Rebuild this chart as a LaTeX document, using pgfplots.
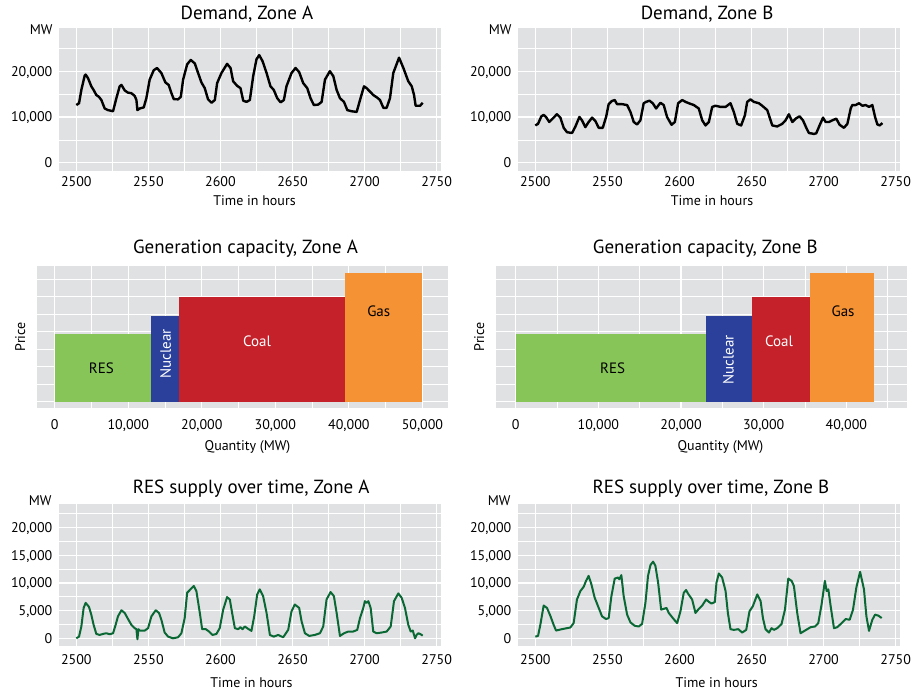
\documentclass[border=0pt]{standalone}
\usepackage{fontspec}
\setmainfont{PT Sans}
\usepackage{pgfplots}
\pgfplotsset{compat=1.18}
\definecolor{bgc}{RGB}{224,225,227}
\definecolor{resgreen}{RGB}{135,197,88}
\definecolor{nucblue}{RGB}{42,64,154}
\definecolor{coalred}{RGB}{196,33,43}
\definecolor{gasorange}{RGB}{245,146,51}
\definecolor{linegreen}{RGB}{10,104,52}
\pgfplotsset{
  panel/.style={
    scale only axis, anchor=south west, clip=false, scaled ticks=false,
    axis background/.style={fill=bgc},
    axis line style={draw=none},
    major tick length=0pt, minor tick length=0pt,
    grid=both,
    major grid style={draw=white, line width=1.2pt},
    minor grid style={draw=white, line width=0.6pt},
    tick label style={font=\fontsize{14}{16}\selectfont},
    yticklabel style={anchor=base east, inner sep=0pt, xshift=-6.5pt, yshift=-5pt},
  },
  timepanel/.style={
    panel, xmin=2488, xmax=2753,
    xtick={2500,2550,2600,2650,2700,2750},
    xticklabels={2500,2550,2600,2650,2700,2750},
    minor xtick={2525,2575,2625,2675,2725},
  },
  cappanel/.style={
    panel, ymin=-0.34, ymax=7.75,
    ytick={0,2,4,6}, yticklabels={}, minor ytick={1,3,5,7},
    minor xtick={5000,15000,25000,35000,45000},
    xticklabel style={anchor=base, inner sep=0pt, yshift=-22pt},
  },
}
\newcommand{\ttl}{\fontsize{19}{22}\selectfont}
\newcommand{\lbl}{\fontsize{14}{16}\selectfont}
\newcommand{\barfont}{\fontsize{15}{17}\selectfont}
\begin{document}
\begin{tikzpicture}
\useasboundingbox (0pt,0pt) rectangle (919pt,694pt);

% ---------- Demand, Zone A ----------
\begin{axis}[timepanel, at={(59pt,523pt)}, width=382pt, height=143.3pt,
  ymin=-1800, ymax=29500, ytick={0,10000,20000}, yticklabels={0,{10,000},{20,000}},
  minor ytick={5000,15000,25000},
  xticklabel style={anchor=base, inner sep=0pt, yshift=-15.7pt}]
\addplot[black, line width=2.4pt, line join=round] coordinates {
(2500.0,12600)(2501.9,13000)(2503.5,15900)(2505.8,19000)(2506.5,19260)(2508.1,18500)(2510.4,16700)(2512.0,15900)(2513.9,14800)(2515.7,14400)(2517.4,13700)(2519.7,11850)(2522.0,11500)(2525.5,11260)(2527.8,14100)(2530.1,16700)(2531.3,17000)(2533.6,15800)(2535.9,15300)(2538.2,15200)(2540.5,14600)(2541.7,13700)(2542.4,11500)(2544.0,11850)(2546.8,12100)(2548.6,14100)(2550.9,18150)(2553.7,20200)(2556.0,20700)(2559.0,19600)(2561.8,17550)(2564.1,17000)(2566.0,15200)(2567.6,13900)(2570.6,13850)(2572.5,14400)(2574.1,18150)(2576.9,21500)(2579.4,22450)(2582.2,21700)(2584.5,19600)(2586.8,17550)(2589.1,16300)(2591.4,13850)(2593.8,13100)(2596.1,13700)(2597.7,17400)(2600.7,19600)(2604.6,21600)(2607.0,20700)(2608.8,17800)(2611.6,16800)(2613.9,16300)(2615.8,13550)(2618.1,13300)(2620.4,13700)(2622.7,18900)(2625.0,22600)(2626.9,23500)(2629.2,22200)(2632.0,19600)(2634.7,16700)(2637.0,15900)(2639.4,14100)(2641.7,13200)(2644.0,13700)(2645.8,16700)(2649.3,19600)(2652.1,20700)(2654.6,19800)(2657.4,17400)(2660.2,16300)(2662.5,14100)(2664.8,12600)(2667.8,12700)(2670.2,13300)(2672.5,18150)(2675.9,20000)(2678.3,18900)(2680.6,15900)(2682.9,14100)(2685.7,13300)(2688.0,11500)(2691.0,11250)(2694.5,11100)(2696.8,13700)(2699.6,16700)(2701.4,16300)(2703.7,15550)(2706.0,14800)(2708.4,14300)(2710.7,13700)(2713.0,12000)(2715.3,12000)(2717.6,14100)(2719.9,19600)(2723.9,22950)(2726.9,20700)(2730.3,17800)(2732.7,16700)(2734.3,14800)(2735.4,12450)(2738.5,12450)(2740.3,13100)
};
\node[anchor=base, font=\ttl, yshift=8.4pt] at (rel axis cs:0.492,1) {Demand, Zone A};
\node[anchor=base east, font=\lbl, inner sep=0pt, xshift=-6.3pt, yshift=-7.3pt] at (rel axis cs:0,1) {MW};
\node[anchor=base, font=\lbl, yshift=-35pt] at (rel axis cs:0.512,0) {Time in hours};
\end{axis}

% ---------- Demand, Zone B ----------
\begin{axis}[timepanel, at={(518pt,523pt)}, width=382pt, height=143.3pt,
  ymin=-1800, ymax=29500, ytick={0,10000,20000}, yticklabels={0,{10,000},{20,000}},
  minor ytick={5000,15000,25000},
  xticklabel style={anchor=base, inner sep=0pt, yshift=-15.7pt}]
\addplot[black, line width=2.4pt, line join=round] coordinates {
(2500.0,8150)(2501.9,8500)(2504.2,10150)(2505.8,10450)(2507.4,10000)(2509.7,8900)(2512.0,9630)(2515.0,10600)(2517.4,9850)(2519.7,7630)(2522.0,6670)(2525.5,6500)(2527.8,7900)(2530.6,10000)(2532.4,9260)(2534.7,7780)(2537.0,8900)(2539.4,9850)(2541.7,9100)(2544.0,7630)(2546.8,7630)(2549.1,10000)(2550.9,12800)(2553.2,13500)(2555.1,13700)(2556.7,12800)(2560.2,12800)(2563.7,12600)(2566.0,11100)(2568.3,8900)(2570.6,8370)(2572.9,9260)(2575.2,13000)(2576.9,13300)(2579.2,13550)(2581.5,13000)(2583.8,11850)(2586.8,13100)(2589.1,12600)(2591.4,10000)(2594.5,8300)(2596.8,8900)(2599.1,13000)(2601.9,13700)(2604.2,13300)(2606.5,13000)(2610.0,12600)(2613.4,11850)(2615.8,9260)(2618.1,8150)(2620.4,8900)(2622.7,12200)(2625.0,12450)(2628.5,12200)(2632.0,12200)(2635.4,13000)(2637.7,11100)(2640.1,8500)(2642.8,8150)(2645.4,10370)(2647.0,13300)(2649.3,13850)(2651.6,13300)(2655.1,13000)(2657.4,12450)(2660.9,11500)(2664.4,8150)(2667.8,7930)(2671.3,8500)(2673.6,9260)(2675.9,10600)(2678.3,8900)(2680.6,9630)(2683.3,10150)(2685.7,9260)(2688.0,7630)(2689.8,6500)(2693.3,6300)(2694.9,6440)(2697.2,8150)(2699.6,9850)(2701.4,8900)(2703.7,8900)(2706.0,9260)(2708.8,9630)(2711.1,8300)(2714.1,7630)(2716.5,8500)(2718.8,11850)(2719.9,12600)(2722.2,12600)(2724.6,13000)(2726.9,12450)(2729.2,12600)(2731.5,12200)(2733.8,12600)(2735.7,10000)(2737.3,8370)(2738.9,8150)(2740.8,8670)
};
\node[anchor=base, font=\ttl, yshift=8.4pt] at (rel axis cs:0.495,1) {Demand, Zone B};
\node[anchor=base east, font=\lbl, inner sep=0pt, xshift=-6.3pt, yshift=-7.3pt] at (rel axis cs:0,1) {MW};
\node[anchor=base, font=\lbl, yshift=-35pt] at (rel axis cs:0.508,0) {Time in hours};
\end{axis}

% ---------- Generation capacity, Zone A ----------
\begin{axis}[cappanel, at={(36.7pt,286.3pt)}, width=411pt, height=141.7pt,
  xmin=-2450, xmax=53440,
  xtick={0,10000,20000,30000,40000,50000},
  xticklabels={0,{10,000},{20,000},{30,000},{40,000},{50,000}}]
\addplot[fill=resgreen, draw=none] coordinates {(0,0) (0,3.87) (13050,3.87) (13050,0)} -- cycle;
\addplot[fill=nucblue, draw=none] coordinates {(13050,0) (13050,4.9) (16860,4.9) (16860,0)} -- cycle;
\addplot[fill=coalred, draw=none] coordinates {(16860,0) (16860,5.98) (39440,5.98) (39440,0)} -- cycle;
\addplot[fill=gasorange, draw=none] coordinates {(39440,0) (39440,7.35) (50000,7.35) (50000,0)} -- cycle;
\node[font=\barfont, black] at (axis cs:6346,1.9) {RES};
\node[font=\barfont, white, rotate=90] at (axis cs:15095,2.74) {Nuclear};
\node[font=\barfont, white] at (axis cs:27516,3.43) {Coal};
\node[font=\barfont, black] at (axis cs:44060,5.18) {Gas};
\node[anchor=base, font=\ttl, yshift=12pt] at (rel axis cs:0.508,1) {Generation capacity, Zone A};
\node[anchor=base, font=\lbl, inner sep=0pt, rotate=90, yshift=11.7pt] at (rel axis cs:0,0.5) {Price};
\node[anchor=base, font=\lbl, yshift=-43pt] at (rel axis cs:0.513,0) {Quantity (MW)};
\end{axis}

% ---------- Generation capacity, Zone B ----------
\begin{axis}[cappanel, at={(495.7pt,286.3pt)}, width=411pt, height=141.7pt,
  xmin=-2420, xmax=47300,
  xtick={0,10000,20000,30000,40000},
  xticklabels={0,{10,000},{20,000},{30,000},{40,000}}]
\addplot[fill=resgreen, draw=none] coordinates {(0,0) (0,3.87) (22980,3.87) (22980,0)} -- cycle;
\addplot[fill=nucblue, draw=none] coordinates {(22980,0) (22980,4.9) (28550,4.9) (28550,0)} -- cycle;
\addplot[fill=coalred, draw=none] coordinates {(28550,0) (28550,5.98) (35600,5.98) (35600,0)} -- cycle;
\addplot[fill=gasorange, draw=none] coordinates {(35600,0) (35600,7.35) (43350,7.35) (43350,0)} -- cycle;
\node[font=\barfont, black] at (axis cs:11730,1.9) {RES};
\node[font=\barfont, white, rotate=90] at (axis cs:25725,2.38) {Nuclear};
\node[font=\barfont, white] at (axis cs:31855,3.43) {Coal};
\node[font=\barfont, black] at (axis cs:39600,5.14) {Gas};
\node[anchor=base, font=\ttl, yshift=12pt] at (rel axis cs:0.51,1) {Generation capacity, Zone B};
\node[anchor=base, font=\lbl, inner sep=0pt, rotate=90, yshift=11.7pt] at (rel axis cs:0,0.5) {Price};
\node[anchor=base, font=\lbl, yshift=-43pt] at (rel axis cs:0.547,0) {Quantity (MW)};
\end{axis}

% ---------- RES supply over time, Zone A ----------
\begin{axis}[timepanel, at={(59pt,48pt)}, width=382pt, height=141.7pt,
  ymin=-1390, ymax=24200, ytick={0,5000,10000,15000,20000},
  yticklabels={0,{5,000},{10,000},{15,000},{20,000}},
  minor ytick={2500,7500,12500,17500,22500},
  xticklabel style={anchor=base, inner sep=0pt, yshift=-18.3pt}]
\addplot[linegreen, line width=2pt, line join=round] coordinates {
(2500.0,0)(2501.9,300)(2503.5,2130)(2505.1,5490)(2506.5,6400)(2508.8,5670)(2510.4,4270)(2512.0,2440)(2513.9,790)(2516.2,610)(2518.5,790)(2520.8,915)(2523.2,730)(2525.5,915)(2527.3,2440)(2528.9,3960)(2531.3,5060)(2533.6,4570)(2535.9,3480)(2538.2,2440)(2540.5,1830)(2541.7,1650)(2542.4,-180)(2543.1,1650)(2544.0,1400)(2547.5,1400)(2549.8,1830)(2552.1,3960)(2555.1,5060)(2557.4,4570)(2559.0,3350)(2561.3,1040)(2563.7,300)(2567.1,0)(2570.6,180)(2572.9,915)(2575.2,3660)(2576.9,8230)(2579.2,8840)(2581.5,9450)(2583.3,8540)(2585.7,4570)(2587.3,1650)(2589.8,1650)(2592.1,1220)(2594.5,610)(2597.2,790)(2599.5,1830)(2601.9,5180)(2604.6,7440)(2606.5,7010)(2608.1,4570)(2610.0,1830)(2612.3,1650)(2613.9,2010)(2615.3,1650)(2616.9,2130)(2619.2,1710)(2621.5,1340)(2623.4,3960)(2625.5,7930)(2627.3,8840)(2629.6,7620)(2632.0,4570)(2634.3,610)(2637.0,300)(2640.1,610)(2643.5,180)(2647.0,1520)(2649.3,4880)(2651.6,6100)(2654.6,5490)(2656.3,3050)(2658.6,915)(2661.6,430)(2665.5,610)(2669.0,915)(2671.3,2130)(2673.6,7010)(2676.4,8350)(2678.7,7620)(2680.6,4570)(2682.9,430)(2685.7,915)(2688.7,1220)(2692.1,1220)(2694.9,1520)(2696.8,3660)(2699.1,5490)(2700.2,6710)(2701.4,6400)(2702.6,6710)(2704.2,5490)(2706.0,1220)(2708.4,915)(2711.8,1040)(2715.3,1220)(2718.1,2130)(2720.4,6710)(2723.4,8110)(2725.7,7320)(2728.0,5490)(2730.3,2440)(2732.0,1220)(2733.4,1400)(2735.0,0)(2736.1,610)(2737.3,915)(2738.5,790)(2740.3,490)
};
\node[anchor=base, font=\ttl, yshift=11pt] at (rel axis cs:0.503,1) {RES supply over time, Zone A};
\node[anchor=base east, font=\lbl, inner sep=0pt, xshift=-7.3pt, yshift=-1.4pt] at (rel axis cs:0,1) {MW};
\node[anchor=base, font=\lbl, yshift=-41.7pt] at (rel axis cs:0.504,0) {Time in hours};
\end{axis}

% ---------- RES supply over time, Zone B ----------
\begin{axis}[timepanel, at={(518pt,48pt)}, width=382pt, height=141.7pt,
  ymin=-1390, ymax=24200, ytick={0,5000,10000,15000,20000},
  yticklabels={0,{5,000},{10,000},{15,000},{20,000}},
  minor ytick={2500,7500,12500,17500,22500},
  xticklabel style={anchor=base, inner sep=0pt, yshift=-18.3pt}]
\addplot[linegreen, line width=2pt, line join=round] coordinates {
(2500.0,300)(2501.9,430)(2503.5,2440)(2505.8,5920)(2508.1,5490)(2510.4,4090)(2512.7,2440)(2514.4,1400)(2518.5,1650)(2524.3,1950)(2526.6,2740)(2528.9,7010)(2531.3,8540)(2533.6,9330)(2535.2,10370)(2537.0,11280)(2538.9,9760)(2541.2,7320)(2544.0,5490)(2546.3,3960)(2549.1,3480)(2550.9,3660)(2552.8,7620)(2555.1,10790)(2557.4,10980)(2558.3,10670)(2559.7,11400)(2561.3,7620)(2563.7,4270)(2566.0,2870)(2569.0,2260)(2571.8,2130)(2574.1,2620)(2576.4,6400)(2578.2,11280)(2579.9,13230)(2581.7,13840)(2583.3,13110)(2585.2,10060)(2587.3,5180)(2589.1,5310)(2591.0,5490)(2592.6,4570)(2595.4,3660)(2598.4,2740)(2600.7,4880)(2603.0,8230)(2604.6,8720)(2606.0,8050)(2608.8,7010)(2611.1,4570)(2613.4,5310)(2615.8,5920)(2618.5,7010)(2620.4,6590)(2622.2,6280)(2624.5,6530)(2625.7,10060)(2627.3,11710)(2629.6,10980)(2632.0,8540)(2633.6,4570)(2635.4,1650)(2637.7,1520)(2640.8,1650)(2643.5,1040)(2646.3,1520)(2648.6,4880)(2650.9,5790)(2654.0,7930)(2656.3,6710)(2657.9,3660)(2659.7,1650)(2662.1,1040)(2663.9,1830)(2665.5,1520)(2667.8,1830)(2670.8,2560)(2673.2,5180)(2675.5,10790)(2677.8,10370)(2679.4,9450)(2681.7,4570)(2684.0,915)(2687.1,1400)(2691.0,2010)(2694.0,2130)(2696.3,2740)(2698.6,6100)(2700.9,10370)(2702.1,8540)(2703.3,8840)(2704.9,5790)(2707.2,1830)(2709.5,2010)(2712.5,2740)(2715.3,3480)(2718.1,3350)(2720.4,5180)(2722.7,9150)(2725.3,12010)(2728.0,8840)(2729.7,3960)(2731.5,1340)(2733.8,3350)(2735.7,4270)(2738.0,4090)(2740.3,3660)
};
\node[anchor=base, font=\ttl, yshift=11pt] at (rel axis cs:0.505,1) {RES supply over time, Zone B};
\node[anchor=base east, font=\lbl, inner sep=0pt, xshift=-7.3pt, yshift=-1.4pt] at (rel axis cs:0,1) {MW};
\node[anchor=base, font=\lbl, yshift=-41.7pt] at (rel axis cs:0.52,0) {Time in hours};
\end{axis}
\end{tikzpicture}
\end{document}
